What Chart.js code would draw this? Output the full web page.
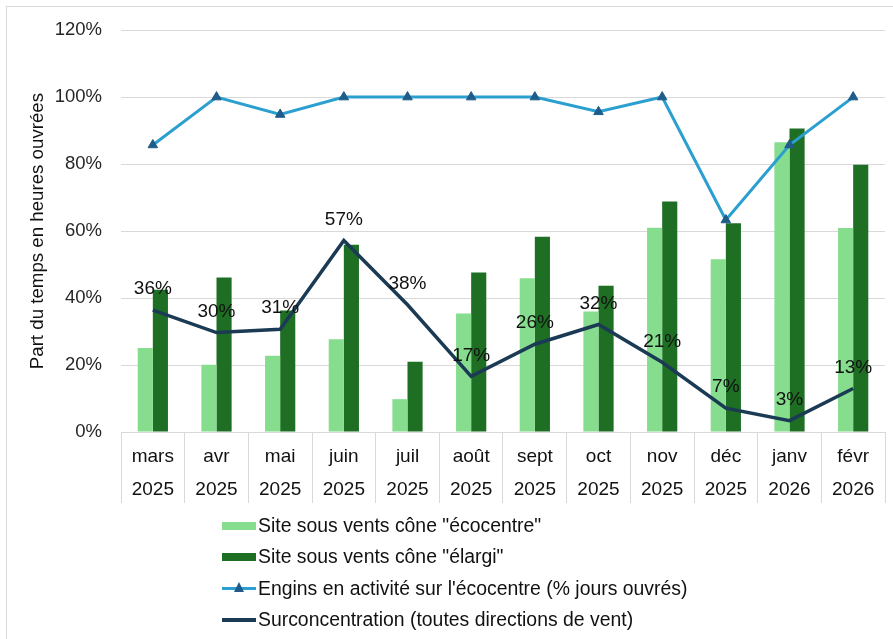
<!DOCTYPE html>
<html lang="fr">
<head>
<meta charset="utf-8">
<title>Part du temps en heures ouvrées</title>
<script src="https://cdn.jsdelivr.net/npm/chart.js@4.4.1/dist/chart.umd.min.js"></script>
<style>
  html, body { margin: 0; padding: 0; background: #fff; overflow: hidden; }
  #wrap { position: relative; width: 893px; height: 639px; font-family: "Liberation Sans", Arial, sans-serif; }
  #frame { position: absolute; left: 6px; top: 6px; width: 900px; height: 650px; border-top: 1px solid #d9d9d9; border-left: 1px solid #d9d9d9; }
  #chart { position: absolute; left: 0; top: 0; }
  #legend { position: absolute; left: 222px; top: 510px; }
  .item { display: flex; align-items: center; height: 31.3px; font-size: 19.4px; color: #111; white-space: nowrap; }
  .swatch { position: relative; width: 34px; height: 10px; margin-right: 2px; }
  .swatch.box span { position: absolute; left: 0; top: 1px; width: 34px; height: 8px; }
  .swatch.line span { position: absolute; left: 0; top: 3.5px; width: 34px; height: 3px; }
  .swatch .tri { position: absolute; left: 11.5px; top: -1px; width: 0; height: 0;
    border-left: 5.5px solid transparent; border-right: 5.5px solid transparent; border-bottom: 10px solid #1f5c8a; }
</style>
</head>
<body>
<div id="wrap">
  <div id="frame"></div>
  <canvas id="chart" width="893" height="639"></canvas>
  <div id="legend"></div>
</div>
<script>
// categories (month / year on two lines)
const months = [
  ["mars", "2025"], ["avr", "2025"], ["mai", "2025"], ["juin", "2025"],
  ["juil", "2025"], ["août", "2025"], ["sept", "2025"], ["oct", "2025"],
  ["nov", "2025"], ["déc", "2025"], ["janv", "2026"], ["févr", "2026"]
];

// values in % of working hours
const ecocentre = [25.1, 20.1, 22.8, 27.7, 9.8, 35.4, 45.9, 36.0, 61.0, 51.6, 86.5, 60.9];
const elargi = [42.5, 46.1, 36.3, 55.9, 21.0, 47.6, 58.3, 43.7, 68.8, 62.3, 90.6, 79.8];
const engins = [85.7, 100, 94.8, 100, 100, 100, 100, 95.6, 100, 63.3, 85.7, 100];
const surconcentration = [36.4, 29.7, 30.7, 57.2, 38.0, 16.6, 26.2, 32.1, 20.8, 7.1, 3.4, 13.0];

const yMax = 120;
const yStep = 20;

const names = [
  'Site sous vents cône "écocentre"',
  'Site sous vents cône "élargi"',
  "Engins en activité sur l'écocentre (% jours ouvrés)",
  "Surconcentration (toutes directions de vent)"
];

const colors = {
  light: "#86dd8e",
  dark: "#1e6e24",
  blue: "#2a9fd0",
  marker: "#1f5c8a",
  navy: "#1b3a53",
  grid: "#d9d9d9"
};

const FONT = '"Liberation Sans", Arial, sans-serif';
Chart.defaults.font.family = FONT;
Chart.defaults.font.size = 19;
Chart.defaults.color = "#262626";

// percentage labels above the surconcentration line
const pointLabels = {
  id: "pointLabels",
  afterDatasetsDraw(chart) {
    const meta = chart.getDatasetMeta(3);
    const ctx = chart.ctx;
    ctx.save();
    ctx.font = "19px " + FONT;
    ctx.fillStyle = "#111";
    ctx.textAlign = "center";
    ctx.textBaseline = "middle";
    meta.data.forEach((pt, i) => {
      ctx.fillText(Math.round(surconcentration[i]) + "%", pt.x, pt.y - 21);
    });
    ctx.restore();
  }
};

const ctx = document.getElementById("chart").getContext("2d");
new Chart(ctx, {
  type: "bar",
  data: {
    labels: months,
    datasets: [
      {
        label: names[0],
        data: ecocentre,
        backgroundColor: colors.light,
        categoryPercentage: 0.475,
        barPercentage: 1,
        order: 2
      },
      {
        label: names[1],
        data: elargi,
        backgroundColor: colors.dark,
        categoryPercentage: 0.475,
        barPercentage: 1,
        order: 3
      },
      {
        type: "line",
        label: names[2],
        data: engins,
        borderColor: colors.blue,
        borderWidth: 3,
        tension: 0,
        pointStyle: "triangle",
        pointRadius: 5.5,
        pointBackgroundColor: colors.marker,
        pointBorderColor: colors.marker,
        pointBorderWidth: 1,
        order: 0
      },
      {
        type: "line",
        label: names[3],
        data: surconcentration,
        borderColor: colors.navy,
        borderWidth: 3.5,
        tension: 0,
        pointRadius: 0,
        order: 1
      }
    ]
  },
  options: {
    responsive: false,
    animation: false,
    devicePixelRatio: 1,
    layout: { padding: { top: 25, right: 8, bottom: 127, left: 6 } },
    plugins: {
      legend: { display: false },
      tooltip: { enabled: false }
    },
    scales: {
      x: {
        offset: true,
        grid: {
          offset: true,
          drawOnChartArea: false,
          drawTicks: true,
          tickLength: 71,
          color: colors.grid
        },
        border: { display: false },
        ticks: {
          autoSkip: false,
          maxRotation: 0,
          padding: -63,
          color: "#111",
          font: { size: 19, lineHeight: 1.74 }
        },
        afterFit(scale) { scale.height = 80; }
      },
      y: {
        min: 0,
        max: yMax,
        ticks: {
          stepSize: yStep,
          padding: 19,
          color: "#262626",
          font: { size: 18.5 },
          callback: (v) => v + "%"
        },
        grid: { color: colors.grid, drawTicks: false },
        border: { display: false },
        title: {
          display: true,
          text: "Part du temps en heures ouvrées",
          color: "#111",
          font: { size: 18.7, lineHeight: 1.2 },
          padding: { top: 21, bottom: 0 }
        },
        afterFit(scale) { scale.width = 115; }
      }
    }
  },
  plugins: [pointLabels]
});

// legend, one entry per line like the original
const legend = document.getElementById("legend");
const swatches = [
  `<div class="swatch box"><span style="background:${colors.light}"></span></div>`,
  `<div class="swatch box"><span style="background:${colors.dark}"></span></div>`,
  `<div class="swatch line"><span style="background:${colors.blue}"></span><div class="tri"></div></div>`,
  `<div class="swatch line"><span style="background:${colors.navy};height:3.5px"></span></div>`
];
names.forEach((name, i) => {
  const row = document.createElement("div");
  row.className = "item";
  row.innerHTML = swatches[i];
  const txt = document.createElement("span");
  txt.textContent = name;
  row.appendChild(txt);
  legend.appendChild(row);
});
</script>
</body>
</html>
